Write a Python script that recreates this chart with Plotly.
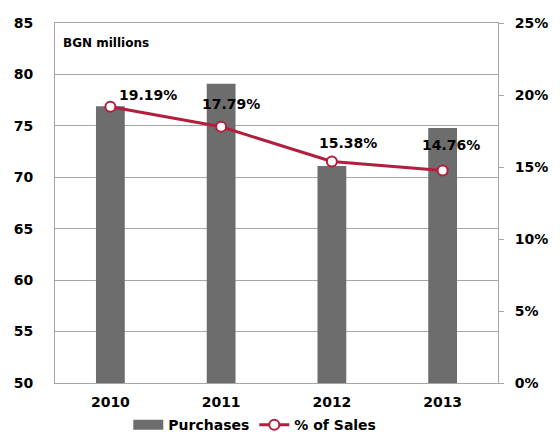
import plotly.graph_objects as go

years = ["2010", "2011", "2012", "2013"]
purchases = [76.9, 79.1, 71.1, 74.8]
pct_sales = [19.19, 17.79, 15.38, 14.76]
pct_labels = ["19.19%", "17.79%", "15.38%", "14.76%"]
label_dx = [38, 10, 16, 8]
label_dy = [12, 23, 19, 25]

FONT = "DejaVu Sans"
RED = "#B31E3C"
GREY = "#6D6D6D"
GRID = "#A6A6A6"

fig = go.Figure()
fig.add_trace(go.Bar(x=years, y=purchases, name="Purchases", marker_color=GREY,
                     marker_line_width=0, yaxis="y", showlegend=False))
# legend entry for bars (wide swatch like the reference)
fig.add_trace(go.Scatter(x=[None], y=[None], name="Purchases", mode="lines",
                         line=dict(color=GREY, width=10), yaxis="y"))
fig.add_trace(go.Scatter(x=years, y=pct_sales, name="% of Sales", mode="lines+markers",
                         line=dict(color=RED, width=3),
                         marker=dict(size=10, color="white", line=dict(color=RED, width=2)),
                         yaxis="y2"))

for i, (v, t, dx, dy) in enumerate(zip(pct_sales, pct_labels, label_dx, label_dy)):
    fig.add_annotation(x=i, y=v, xref="x", yref="y2", text=t, showarrow=False,
                       xshift=dx, yshift=dy,
                       font=dict(family=FONT, size=14, color="black", weight="bold"))

fig.add_annotation(x=0, y=1, xref="paper", yref="paper", text="BGN millions",
                   showarrow=False, xanchor="left", yanchor="top", xshift=6, yshift=-11,
                   font=dict(family=FONT, size=12, color="black", weight="bold"))

fig.update_layout(
    width=560, height=432,
    margin=dict(l=55, r=62, t=23, b=49, autoexpand=False),
    paper_bgcolor="white", plot_bgcolor="white",
    bargap=0.74,
    font=dict(family=FONT, size=14, color="black", weight="bold"),
    xaxis=dict(type="category", range=[-0.5, 3.5], showgrid=False, showline=True,
               linecolor=GRID, linewidth=1,
               mirror=True, ticks="", ticklabelstandoff=6,
               tickfont=dict(family=FONT, size=14, weight="bold")),
    yaxis=dict(range=[50, 85], dtick=5, showgrid=True, gridcolor=GRID, gridwidth=1,
               showline=True, linecolor=GRID, mirror=True, ticks="",
               ticklabelstandoff=18, zeroline=False,
               tickfont=dict(family=FONT, size=14, weight="bold")),
    yaxis2=dict(range=[0, 25], dtick=5, overlaying="y", side="right", showgrid=False,
                ticksuffix="%", ticks="outside", ticklen=5, tickcolor=GRID,
                showline=True, linecolor=GRID, zeroline=False, ticklabelstandoff=8,
                tickfont=dict(family=FONT, size=14, weight="bold")),
    legend=dict(orientation="h", x=0.451, xanchor="center",
                y=-0.117, yanchor="middle",
                font=dict(family=FONT, size=14, weight="bold"),
                traceorder="normal", itemwidth=30),
    showlegend=True,
)

fig.write_html("out.html")
